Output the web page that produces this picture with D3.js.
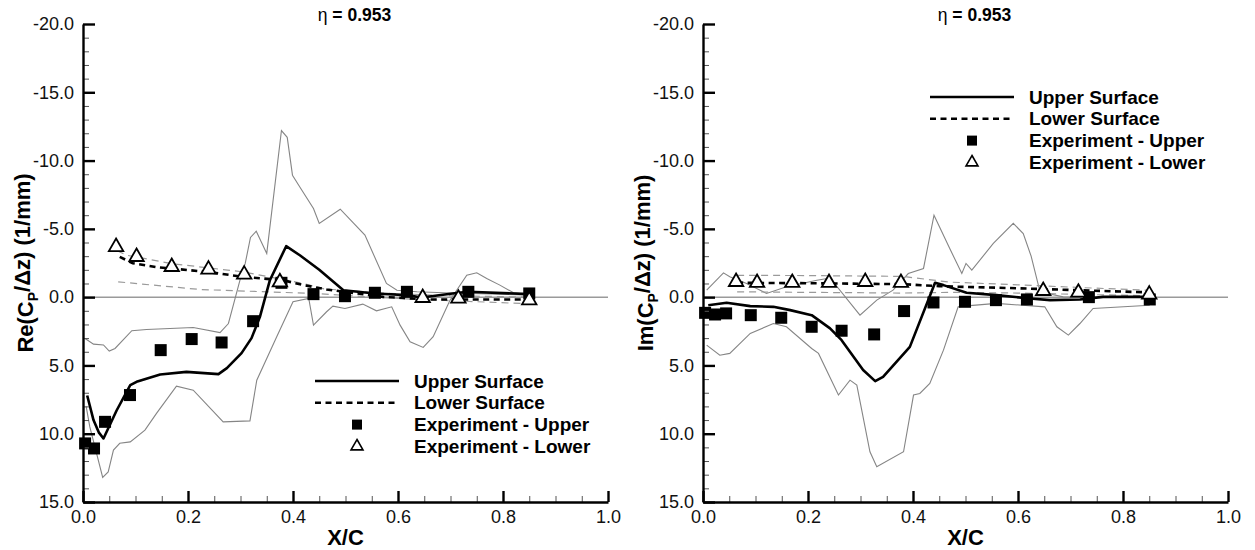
<!DOCTYPE html>
<html>
<head>
<meta charset="utf-8">
<script src="https://cdn.jsdelivr.net/npm/d3@7/dist/d3.min.js"></script>
<style>
  html, body { margin: 0; padding: 0; background: #fff; }
  svg { display: block; }
  text { font-family: "Liberation Sans", Arial, Helvetica, sans-serif; }
</style>
</head>
<body>
<svg id="chart" width="1255" height="550"></svg>
<script>
// ---------------- DATA ----------------
const titleText = "0.953";
const xTicks = [0.0, 0.2, 0.4, 0.6, 0.8, 1.0];
const yTicks = [-20, -15, -10, -5, 0, 5, 10, 15];
const legendLabels = ["Upper Surface", "Lower Surface", "Experiment - Upper", "Experiment - Lower"];

// Left panel: Re(Cp/dz)
const reUpperX = [0.008, 0.02, 0.03, 0.039, 0.064, 0.09, 0.102, 0.147, 0.197, 0.258, 0.274, 0.302, 0.321, 0.337, 0.356, 0.387, 0.413, 0.45, 0.496, 0.556, 0.617, 0.645, 0.715, 0.734, 0.851];
const reUpperV = [7.2, 9.0, 9.9, 10.35, 8.3, 6.45, 6.2, 5.66, 5.47, 5.64, 5.2, 4.1, 3.0, 1.44, -1.24, -3.73, -3.07, -2.0, -0.51, -0.27, -0.15, 0.02, -0.32, -0.39, -0.22];
const reLowerX = [0.07, 0.095, 0.14, 0.236, 0.305, 0.381, 0.42, 0.464, 0.572, 0.655, 0.75, 0.857];
const reLowerV = [-2.95, -2.48, -2.2, -1.85, -1.49, -1.24, -0.88, -0.56, -0.02, 0.17, 0.17, 0.17];
const reDashHiX = [0.065, 0.083, 0.17, 0.305, 0.42, 0.46, 0.57, 0.7, 0.857];
const reDashHiV = [-3.4, -3.07, -2.45, -1.85, -1.0, -0.6, -0.3, -0.1, 0.0];
const reDashLoX = [0.067, 0.223, 0.439, 0.6, 0.857];
const reDashLoV = [-1.12, -0.56, -0.27, 0.1, 0.5];
const reGrayAX = [0.004, 0.02, 0.039, 0.05, 0.061, 0.093, 0.121, 0.21, 0.261, 0.277, 0.299, 0.309, 0.319, 0.33, 0.35, 0.378, 0.389, 0.399, 0.413, 0.439, 0.45, 0.49, 0.537, 0.578, 0.598, 0.636, 0.7, 0.857];
const reGrayAV = [3.03, 3.44, 3.5, 3.95, 3.76, 2.46, 2.37, 2.22, 2.6, 1.93, -1.24, -2.47, -4.37, -4.83, -3.2, -12.2, -11.7, -8.93, -8.07, -6.49, -5.4, -6.44, -4.54, -1.0, -0.51, -0.39, -0.3, -0.15];
const reGrayBX = [0.006, 0.013, 0.0375, 0.048, 0.058, 0.07, 0.09, 0.118, 0.14, 0.178, 0.21, 0.267, 0.318, 0.331, 0.369, 0.40, 0.43, 0.439, 0.464, 0.476, 0.499, 0.533, 0.559, 0.588, 0.604, 0.623, 0.648, 0.667, 0.699, 0.731, 0.75, 0.769, 0.794, 0.82, 0.857];
const reGrayBV = [8.0, 9.5, 13.2, 12.8, 11.2, 10.7, 10.6, 9.74, 8.51, 6.52, 6.81, 9.13, 9.06, 6.08, 2.9, 0.34, 0.1, 2.05, 1.07, 0.66, 0.83, 0.51, 1.0, 0.71, 2.05, 3.27, 3.68, 2.9, 0.22, -1.61, -1.78, -1.37, -0.88, -0.32, -0.15];
const reExpUpperX = [0.004, 0.021, 0.042, 0.0895, 0.148, 0.207, 0.264, 0.324, 0.378, 0.439, 0.499, 0.556, 0.617, 0.734, 0.85];
const reExpUpperV = [10.71, 11.08, 9.13, 7.17, 3.88, 3.07, 3.32, 1.76, -1.05, -0.22, -0.07, -0.32, -0.39, -0.39, -0.27];
const reExpLowerX = [0.063, 0.102, 0.169, 0.239, 0.307, 0.375, 0.647, 0.715, 0.85];
const reExpLowerV = [-3.68, -2.95, -2.22, -2.03, -1.66, -1.1, 0.05, 0.1, 0.22];

// Right panel: Im(Cp/dz)
const imUpperX = [0.010, 0.045, 0.09, 0.134, 0.166, 0.207, 0.242, 0.264, 0.305, 0.328, 0.343, 0.394, 0.442, 0.458, 0.502, 0.559, 0.623, 0.661, 0.718, 0.762, 0.851];
const imUpperV = [0.59, 0.41, 0.66, 0.71, 0.95, 1.32, 2.29, 3.15, 5.34, 6.15, 5.83, 3.64, -1.05, -0.88, -0.32, -0.15, 0.1, 0.22, 0.17, -0.02, -0.02];
const imLowerX = [0.065, 0.2, 0.38, 0.45, 0.6, 0.72, 0.85];
const imLowerV = [-1.05, -1.02, -0.95, -0.8, -0.65, -0.5, -0.35];
const imDashHiX = [0.065, 0.2, 0.38, 0.47, 0.6, 0.72, 0.85];
const imDashHiV = [-1.6, -1.58, -1.52, -1.1, -0.9, -0.7, -0.5];
const imDashLoX = [0.065, 0.2, 0.38, 0.47, 0.6, 0.72, 0.85];
const imDashLoV = [-0.39, -0.35, -0.3, -0.35, -0.3, -0.2, -0.1];
const imGrayAX = [0.007, 0.039, 0.051, 0.083, 0.121, 0.159, 0.217, 0.242, 0.299, 0.331, 0.362, 0.391, 0.42, 0.44, 0.47, 0.493, 0.501, 0.512, 0.553, 0.591, 0.61, 0.625, 0.642, 0.686, 0.85];
const imGrayAV = [-0.51, -1.78, -1.49, -1.0, -0.27, -0.76, -1.24, -1.4, 1.32, 0.22, -0.51, -1.73, -2.1, -6.0, -3.56, -1.73, -2.47, -1.98, -3.93, -5.4, -4.66, -3.0, -0.39, -0.02, 0.0];
const imGrayBX = [0.007, 0.032, 0.051, 0.09, 0.134, 0.159, 0.207, 0.22, 0.258, 0.28, 0.293, 0.318, 0.331, 0.382, 0.401, 0.413, 0.432, 0.458, 0.486, 0.497, 0.559, 0.651, 0.674, 0.696, 0.718, 0.743, 0.851];
const imGrayBV = [3.51, 4.25, 4.12, 2.66, 1.93, 2.17, 3.76, 4.12, 7.17, 6.08, 6.44, 11.32, 12.42, 11.32, 7.17, 7.05, 6.32, 3.88, 0.71, 0.66, 0.46, 0.71, 2.17, 2.78, 1.93, 0.83, 0.59];
const imExpUpperX = [0.004, 0.023, 0.044, 0.091, 0.149, 0.207, 0.264, 0.326, 0.383, 0.439, 0.499, 0.558, 0.617, 0.735, 0.851];
const imExpUpperV = [1.15, 1.27, 1.19, 1.32, 1.51, 2.17, 2.46, 2.73, 1.02, 0.39, 0.34, 0.22, 0.17, 0.0, 0.17];
const imExpLowerX = [0.063, 0.103, 0.17, 0.24, 0.309, 0.377, 0.648, 0.715, 0.85];
const imExpLowerV = [-1.12, -1.05, -1.05, -1.05, -1.12, -1.05, -0.46, -0.34, -0.2];

// ---------------- DRAW ----------------
const svg = d3.select("#chart");
svg.append("rect").attr("width", 1255).attr("height", 550).attr("fill", "#fff");

const zip = (xs, vs) => xs.map((x, i) => [x, vs[i]]);
const fmt = d => d.toFixed(1);

function panel(opts) {
  const g = svg.append("g");
  const x = d3.scaleLinear().domain([0, 1]).range([opts.x0, opts.x0 + 525]);
  const y = d3.scaleLinear().domain([-20, 15]).range([24, 502]);
  const line = d3.line().x(d => x(d[0])).y(d => y(d[1]));

  // zero line
  g.append("line").attr("x1", x(0)).attr("x2", x(1)).attr("y1", y(0)).attr("y2", y(0))
    .attr("stroke", "#9a9a9a").attr("stroke-width", 1.5);

  // gray envelope lines
  [opts.grayA, opts.grayB].forEach(d => {
    g.append("path").datum(d).attr("d", line).attr("fill", "none")
      .attr("stroke", "#858585").attr("stroke-width", 1.1);
  });
  [opts.dashHi, opts.dashLo].forEach(d => {
    g.append("path").datum(d).attr("d", line).attr("fill", "none")
      .attr("stroke", "#9a9a9a").attr("stroke-width", 1.2).attr("stroke-dasharray", "7,5");
  });

  // main lines
  g.append("path").datum(opts.lower).attr("d", line).attr("fill", "none")
    .attr("stroke", "#000").attr("stroke-width", 2.6).attr("stroke-dasharray", "6,4.5");
  g.append("path").datum(opts.upper).attr("d", line).attr("fill", "none")
    .attr("stroke", "#000").attr("stroke-width", 2.6).attr("stroke-linejoin", "round");

  // markers
  g.selectAll(".sq").data(opts.expUpper).enter().append("rect")
    .attr("x", d => x(d[0]) - 6).attr("y", d => y(d[1]) - 6)
    .attr("width", 12).attr("height", 12).attr("fill", "#000");
  const tri = d3.symbol().type(d3.symbolTriangle).size(90);
  g.selectAll(".tri").data(opts.expLower).enter().append("path")
    .attr("d", tri).attr("transform", d => `translate(${x(d[0])},${y(d[1])})`)
    .attr("fill", "#fff").attr("stroke", "#000").attr("stroke-width", 1.8);

  // axes
  const yMinor = d3.range(-20, 16, 1).filter(v => v % 5 !== 0);
  const xMinor = d3.range(0, 1.0001, 0.05).filter((v, i) => i % 4 !== 0);

  const yMinAx = g.append("g").attr("transform", `translate(${x(0)},0)`)
    .call(d3.axisLeft(y).tickValues(yMinor).tickSize(-6).tickFormat(""));
  yMinAx.select(".domain").remove();
  yMinAx.selectAll("line").attr("stroke", "#555").attr("stroke-width", 1);

  const xMinAx = g.append("g").attr("transform", `translate(0,${y(15)})`)
    .call(d3.axisBottom(x).tickValues(xMinor).tickSize(-6).tickFormat(""));
  xMinAx.select(".domain").remove();
  xMinAx.selectAll("line").attr("stroke", "#555").attr("stroke-width", 1);

  const yAx = g.append("g").attr("transform", `translate(${x(0)},0)`)
    .call(d3.axisLeft(y).tickValues(yTicks).tickSize(-12).tickSizeOuter(0).tickPadding(9).tickFormat(fmt));
  yAx.select(".domain").attr("stroke-width", 2.4);
  yAx.selectAll("line").attr("stroke-width", 2.4);
  yAx.selectAll("text").attr("font-size", 18).attr("fill", "#111")
    .style("font-family", '"Liberation Sans", Arial, sans-serif');

  const xAx = g.append("g").attr("transform", `translate(0,${y(15)})`)
    .call(d3.axisBottom(x).tickValues(xTicks).tickSize(-11).tickSizeOuter(0).tickPadding(8).tickFormat(fmt));
  xAx.select(".domain").attr("stroke-width", 2.4);
  xAx.selectAll("line").attr("stroke-width", 2.4);
  xAx.selectAll("text").attr("font-size", 18).attr("fill", "#111")
    .style("font-family", '"Liberation Sans", Arial, sans-serif');

  // axis titles
  g.append("text").attr("x", (x(0) + x(1)) / 2).attr("y", 545)
    .attr("text-anchor", "middle").attr("font-size", 22).attr("font-weight", "bold").text("X/C");

  const yt = g.append("text")
    .attr("transform", `translate(${x(0) - 50},${(y(-20) + y(15)) / 2}) rotate(-90)`)
    .attr("text-anchor", "middle").attr("font-size", 22).attr("font-weight", "bold");
  yt.append("tspan").text(opts.yPrefix + "(C");
  yt.append("tspan").attr("font-size", 14).attr("dy", "0.35em").text("P");
  yt.append("tspan").attr("dy", "-0.35em").text("/\u0394z) (1/mm)");

  // title
  const tt = g.append("text").attr("x", (x(0) + x(1)) / 2 + 9).attr("y", 21)
    .attr("text-anchor", "middle").attr("font-size", 17.5);
  tt.append("tspan").text("\u03b7 ");
  tt.append("tspan").attr("font-weight", "bold").text("= " + titleText);

  // legend
  const lx = opts.legX, ly = opts.legY, dy = 21.8;
  const lg = g.append("g");
  lg.append("line").attr("x1", lx).attr("x2", lx + 84).attr("y1", ly).attr("y2", ly)
    .attr("stroke", "#000").attr("stroke-width", 2.6);
  lg.append("line").attr("x1", lx).attr("x2", lx + 84).attr("y1", ly + dy).attr("y2", ly + dy)
    .attr("stroke", "#000").attr("stroke-width", 2.6).attr("stroke-dasharray", "6,4.5");
  lg.append("rect").attr("x", lx + 42 - 5).attr("y", ly + 2 * dy - 5).attr("width", 10).attr("height", 10).attr("fill", "#000");
  lg.append("path").attr("d", d3.symbol().type(d3.symbolTriangle).size(62)())
    .attr("transform", `translate(${lx + 42},${ly + 3 * dy})`)
    .attr("fill", "#fff").attr("stroke", "#000").attr("stroke-width", 1.6);
  legendLabels.forEach((t, i) => {
    lg.append("text").attr("x", lx + 99).attr("y", ly + i * dy).attr("dy", "0.35em")
      .attr("font-size", 19).attr("font-weight", "bold").text(t);
  });
}

panel({
  x0: 83, yPrefix: "Re",
  upper: zip(reUpperX, reUpperV), lower: zip(reLowerX, reLowerV),
  dashHi: zip(reDashHiX, reDashHiV), dashLo: zip(reDashLoX, reDashLoV),
  grayA: zip(reGrayAX, reGrayAV), grayB: zip(reGrayBX, reGrayBV),
  expUpper: zip(reExpUpperX, reExpUpperV), expLower: zip(reExpLowerX, reExpLowerV),
  legX: 315, legY: 381
});
panel({
  x0: 703, yPrefix: "Im",
  upper: zip(imUpperX, imUpperV), lower: zip(imLowerX, imLowerV),
  dashHi: zip(imDashHiX, imDashHiV), dashLo: zip(imDashLoX, imDashLoV),
  grayA: zip(imGrayAX, imGrayAV), grayB: zip(imGrayBX, imGrayBV),
  expUpper: zip(imExpUpperX, imExpUpperV), expLower: zip(imExpLowerX, imExpLowerV),
  legX: 930, legY: 97
});
</script>
</body>
</html>
